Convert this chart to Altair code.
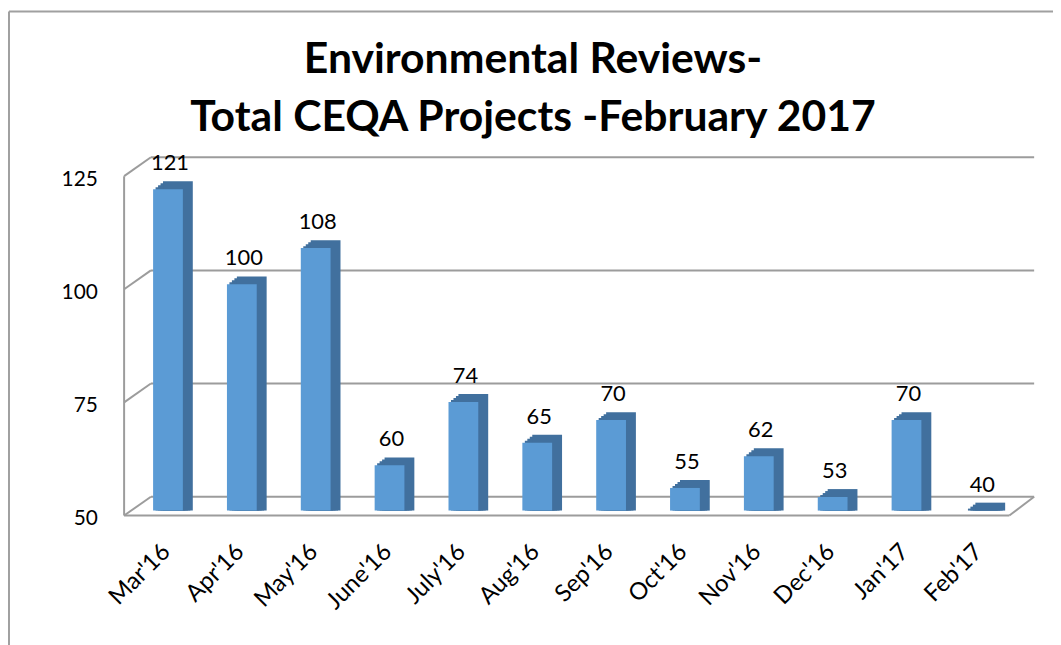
import altair as alt
import pandas as pd

months = ["Mar'16", "Apr'16", "May'16", "June'16", "July'16", "Aug'16",
          "Sep'16", "Oct'16", "Nov'16", "Dec'16", "Jan'17", "Feb'17"]
projects = [121, 100, 108, 60, 74, 65, 70, 55, 62, 53, 70, 40]
y_ticks = [50, 75, 100, 125]
title_lines = ["Environmental Reviews-", "Total CEQA Projects -February 2017"]

df = pd.DataFrame({"month": months, "projects": projects})
ticks_df = pd.DataFrame({"tick": y_ticks})
one = pd.DataFrame({"k": [0]})

FONT = "Lato"
GRID = "#9c9c9c"
FRONT = "#5b9bd5"
DARK = "#41709e"

W, H = 893, 342
xs = alt.Scale(domain=months, paddingInner=0, paddingOuter=0)
ys = alt.Scale(domain=[50, 125], clamp=True, nice=False, zero=False)

x_enc = alt.X("month:N", scale=xs, sort=months,
              axis=alt.Axis(title=None, labelAngle=-45, domain=False, ticks=False,
                            grid=False, labelFont=FONT, labelFontSize=24,
                            labelColor="black", labelPadding=29, labelOffset=-10,
                            labelAlign="right", labelBaseline="top"))
y_enc = alt.Y("projects:Q", scale=ys,
              axis=alt.Axis(title=None, values=y_ticks, domain=False, ticks=False,
                            grid=False, labelFont=FONT, labelFontSize=21,
                            labelColor="black", labelPadding=34, labelOffset=8))

# back wall gridlines
back_grid = alt.Chart(ticks_df).mark_rule(color=GRID, strokeWidth=2, yOffset=-14).encode(
    y=alt.Y("tick:Q", scale=ys), x=alt.value(20), x2=alt.value(910))
# diagonal connectors from front axis to back wall
diag = alt.Chart(ticks_df).mark_rule(color=GRID, strokeWidth=2, yOffset=5, y2Offset=-14).encode(
    y=alt.Y("tick:Q", scale=ys), y2=alt.Y2("tick"), x=alt.value(-7), x2=alt.value(20))
# front vertical axis line
front_axis = alt.Chart(one).mark_rule(color=GRID, strokeWidth=2, yOffset=5, y2Offset=5).encode(
    x=alt.value(-7), y=alt.datum(125, scale=ys), y2=alt.datum(50))
# front floor line
front_floor = alt.Chart(one).mark_rule(color=GRID, strokeWidth=2, yOffset=5).encode(
    x=alt.value(-7), x2=alt.value(885), y=alt.datum(50, scale=ys))
right_diag = alt.Chart(one).mark_rule(color=GRID, strokeWidth=2, yOffset=5, y2Offset=-14).encode(
    x=alt.value(885), x2=alt.value(910), y=alt.datum(50, scale=ys), y2=alt.datum(50))

# 3D depth (shadow) layers
shadows = []
for k in [2, 4, 6, 8]:
    shadows.append(
        alt.Chart(df).mark_bar(color=DARK, size=30, xOffset=1.25 * k, yOffset=-k, y2Offset=0).encode(
            x=alt.X("month:N", scale=xs, sort=months),
            y=alt.Y("projects:Q", scale=ys),
            y2=alt.datum(50))
    )

front = alt.Chart(df).mark_bar(color=FRONT, size=30).encode(
    x=x_enc, y=y_enc, y2=alt.datum(50))

labels = alt.Chart(df).mark_text(font=FONT, fontSize=22, color="black",
                                 baseline="middle", dy=-26, dx=2).encode(
    x=alt.X("month:N", scale=xs, sort=months),
    y=alt.Y("projects:Q", scale=ys),
    text=alt.Text("projects:Q"))

# chart title (two lines)
title1 = alt.Chart(one).mark_text(text=title_lines[0], font=FONT, fontSize=43, fontWeight="bold",
                                  color="black", align="center", baseline="alphabetic").encode(
    x=alt.value(405), y=alt.value(-99))
title2 = alt.Chart(one).mark_text(text=title_lines[1], font=FONT, fontSize=43, fontWeight="bold",
                                  color="black", align="center", baseline="alphabetic").encode(
    x=alt.value(405), y=alt.value(-41))

# outer frame (left and top edges)
frame_left = alt.Chart(one).mark_rule(color="#a0a0a0", strokeWidth=2).encode(
    x=alt.value(-123), y=alt.value(-161), y2=alt.value(480))
frame_top = alt.Chart(one).mark_rule(color="#a0a0a0", strokeWidth=2).encode(
    x=alt.value(-123), x2=alt.value(935), y=alt.value(-161))

chart = alt.layer(
    frame_left, frame_top, title1, title2, back_grid, diag, front_axis, front_floor, right_diag,
    *shadows, front, labels
).properties(
    width=W, height=H,
    padding={"left": 124, "top": 162, "right": 36, "bottom": 133},
    autosize=alt.AutoSizeParams(type="none"),
    background="white",
).configure_view(stroke=None)

chart.save("out.html", embed_options={"renderer": "svg", "actions": False})
